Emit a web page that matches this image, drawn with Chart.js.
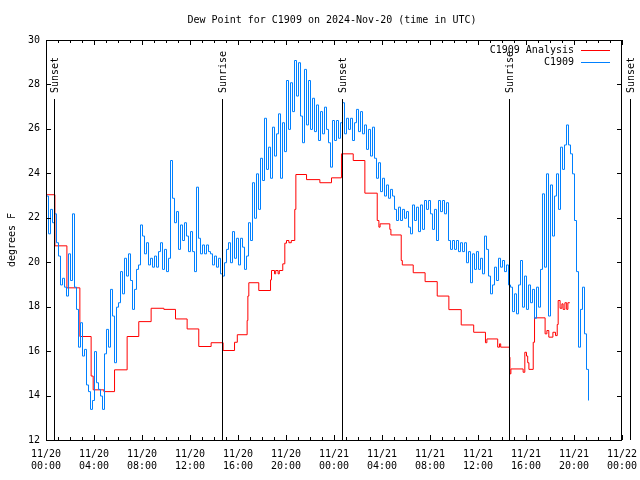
<!DOCTYPE html>
<html><head><meta charset="utf-8">
<script src="https://cdn.jsdelivr.net/npm/chart.js@4.4.0/dist/chart.umd.min.js"></script>
<style>html,body{margin:0;padding:0;background:#fff;}</style>
</head><body>
<canvas id="c" width="640" height="480"></canvas>
<script>
const FONT = '"DejaVu Sans Mono", "Liberation Mono", monospace';
const TITLE = 'Dew Point for C1909 on 2024-Nov-20 (time in UTC)';
const Y_TITLE = 'degrees F';
const SERIES_NAMES = ['C1909 Analysis', 'C1909'];

// x tick labels every 4 hours from 11/20 00:00 to 11/22 00:00
const xTickLabels = [
  ['11/20','00:00'],['11/20','04:00'],['11/20','08:00'],['11/20','12:00'],
  ['11/20','16:00'],['11/20','20:00'],['11/21','00:00'],['11/21','04:00'],
  ['11/21','08:00'],['11/21','12:00'],['11/21','16:00'],['11/21','20:00'],['11/22','00:00']
];

// Sun events (hours since 11/20 00:00 UTC)
const sunHours = [0.7, 14.64, 24.7, 38.6, 48.7];
const sunLabels = ['Sunset', 'Sunrise', 'Sunset', 'Sunrise', 'Sunset'];

// Analysis series (step changes): hours since start and values
const redHours = [0, 0.7, 1.7, 2.78, 3.72, 3.89, 4.78, 5.67, 6.72, 7.69, 8.72, 9.78, 10.75, 11.72, 12.69, 13.72, 14.72, 15.67, 15.9, 16.72, 16.78, 16.86, 17.69, 18.67, 18.75, 19.0, 19.1, 19.3, 19.4, 19.69, 19.86, 20.0, 20.2, 20.4, 20.69, 20.78, 21.67, 22.78, 23.75, 24.58, 25.56, 26.53, 27.56, 27.7, 27.8, 28.61, 28.7, 29.56, 29.65, 30.56, 31.55, 32.56, 33.53, 34.56, 35.6, 36.58, 36.7, 37.6, 37.75, 37.85, 38.58, 38.62, 38.7, 39.72, 39.86, 40.0, 40.1, 40.2, 40.56, 40.67, 41.55, 41.7, 41.86, 42.2, 42.42, 42.56, 42.64, 42.8, 42.95, 43.05, 43.2, 43.35, 43.45, 43.61];
const redValues = [23.06, 20.76, 18.87, 16.68, 14.9, 14.28, 14.2, 15.18, 16.68, 17.35, 17.95, 17.9, 17.47, 17.02, 16.23, 16.4, 16.05, 16.42, 16.76, 17.4, 18.5, 19.1, 18.75, 19.23, 19.65, 19.5, 19.65, 19.5, 19.65, 19.95, 20.88, 21.0, 20.9, 21.0, 22.4, 23.97, 23.74, 23.6, 23.82, 24.9, 24.6, 23.13, 21.9, 21.6, 21.75, 21.5, 21.25, 20.1, 19.9, 19.55, 19.15, 18.5, 17.89, 17.2, 16.87, 16.4, 16.57, 16.2, 16.35, 16.2, 15.75, 15.0, 15.22, 15.07, 15.97, 15.8, 15.5, 15.2, 16.42, 17.52, 16.8, 16.95, 16.65, 16.87, 16.72, 17.22, 18.3, 17.95, 18.15, 17.9, 18.2, 17.9, 18.2, 18.2];

// Observed series, one reading every 10 minutes from 11/20 00:00
const BLUE_STEP_HOURS = 1 / 6;
const blueValues = [
  23.0, 21.3, 22.4, 21.8, 22.2, 20.9,
  20.3, 19.0, 19.3, 18.9, 18.5, 20.4,
  19.2, 22.2, 18.9, 17.9, 16.2, 17.3,
  15.8, 16.1, 14.5, 14.2, 13.4, 13.8,
  16.0, 14.6, 14.3, 14.0, 13.4, 15.9,
  17.0, 16.2, 18.8, 17.6, 15.5, 18.0,
  18.2, 19.6, 18.6, 20.2, 19.4, 20.4,
  19.2, 17.9, 18.8, 19.7, 19.9, 21.7,
  21.2, 20.4, 20.9, 19.9, 20.2, 19.8,
  20.3, 19.8, 20.5, 20.9, 19.7, 20.6,
  19.6, 20.2, 24.6, 22.9, 21.8, 22.3,
  20.6, 21.7, 21.0, 21.8, 21.2, 20.5,
  21.4, 20.5, 19.6, 23.4, 21.1, 20.4,
  20.8, 20.4, 20.8, 20.5, 20.4, 19.9,
  20.3, 19.8, 20.2, 19.5, 19.4, 20.0,
  20.6, 20.9, 20.0, 21.4, 20.2, 21.1,
  19.9, 21.1, 20.7, 19.7, 20.3, 21.8,
  21.0, 23.6, 22.0, 24.0, 22.4, 24.7,
  23.7, 26.5, 24.2, 25.2, 23.8, 26.1,
  24.8, 25.8, 26.7, 23.8, 26.3, 25.0,
  28.2, 26.0, 28.1, 26.8, 29.1, 27.5,
  29.0, 26.6, 25.4, 28.7, 26.2, 28.2,
  26.0, 27.4, 25.9, 27.1, 25.5, 26.8,
  25.8, 27.0, 26.0, 25.4, 24.3, 26.4,
  25.5, 26.4, 25.6, 26.3, 27.2, 25.8,
  26.5, 26.0, 26.5, 25.5, 26.3, 26.9,
  25.9, 26.8, 25.8, 26.2, 25.1, 26.0,
  24.8, 26.1, 24.7, 23.8, 24.5, 23.2,
  23.8, 23.0, 23.5, 22.9, 23.3, 23.0,
  22.4, 21.9, 22.5, 21.9, 22.4, 22.0,
  22.3, 21.6, 21.3, 22.6, 21.9, 22.5,
  21.4, 22.6, 21.5, 22.8, 22.4, 22.8,
  22.2, 21.5, 22.4, 21.0, 22.8, 22.3,
  22.8, 22.2, 22.7, 21.0, 20.6, 21.0,
  20.6, 21.0, 20.5, 20.9, 20.5, 20.9,
  20.0, 20.5, 19.1, 20.4, 19.7, 20.5,
  19.7, 20.2, 19.5, 21.2, 20.6, 19.4,
  18.6, 19.0, 19.8, 19.2, 20.2, 19.8,
  20.1, 19.6, 19.9, 19.0, 18.9, 17.8,
  18.6, 17.7, 19.0, 20.1, 18.0, 19.4,
  17.9, 19.0, 18.2, 18.8, 17.5, 18.9,
  18.0, 19.7, 23.1, 19.8, 24.0, 17.6,
  23.5, 21.2, 23.0, 24.0, 22.4, 25.2,
  24.2, 25.3, 26.2, 25.3, 24.9, 24.0,
  21.9, 19.6, 16.2, 17.9, 18.9, 16.8,
  15.2, 13.8
];

const RED = '#ff0000';
const BLUE = '#0080ff';

const redPoints = redHours.map((h, i) => ({x: h, y: redValues[i]}));
const bluePoints = blueValues.map((v, i) => ({x: i * BLUE_STEP_HOURS, y: v}));

const decorPlugin = {
  id: 'decor',
  beforeDatasetsDraw(chart) {
    // shift by half a pixel so 1px step segments render crisply
    chart.ctx.save();
    chart.ctx.translate(0.5, 0.5);
  },
  afterDatasetsDraw(chart) {
    const ctx = chart.ctx;
    ctx.restore();
    const a = chart.chartArea;
    const xs = chart.scales.x, ys = chart.scales.y;
    ctx.save();
    ctx.strokeStyle = '#000';
    ctx.lineWidth = 1;
    // sun lines
    ctx.beginPath();
    sunHours.forEach(h => {
      const px = Math.round(xs.getPixelForValue(h)) + 0.5;
      ctx.moveTo(px, 99); ctx.lineTo(px, a.bottom);
    });
    ctx.stroke();
    ctx.fillStyle = '#000';
    ctx.font = '10px ' + FONT;
    sunHours.forEach((h, i) => {
      const px = Math.round(xs.getPixelForValue(h)) + 1;
      ctx.save();
      ctx.translate(px, 93);
      ctx.rotate(-Math.PI / 2);
      ctx.textAlign = 'left';
      ctx.textBaseline = 'middle';
      ctx.fillText(sunLabels[i], 0, 0);
      ctx.restore();
    });
    // border
    ctx.strokeRect(Math.round(a.left) + 0.5, Math.round(a.top) + 0.5, Math.round(a.right - a.left) - 1, Math.round(a.bottom - a.top));
    // ticks
    ctx.beginPath();
    for (let h = 0; h <= 48; h++) {
      const px = Math.round(xs.getPixelForValue(h)) + 0.5;
      const len = (h % 4 === 0) ? 5 : 3;
      ctx.moveTo(px, a.bottom); ctx.lineTo(px, a.bottom - len);
      ctx.moveTo(px, a.top); ctx.lineTo(px, a.top + len);
    }
    for (let v = 12; v <= 30; v += 2) {
      const py = Math.round(ys.getPixelForValue(v)) + 0.5;
      ctx.moveTo(a.left, py); ctx.lineTo(a.left + 5, py);
      ctx.moveTo(a.right, py); ctx.lineTo(a.right - 5, py);
    }
    ctx.stroke();
    // title
    ctx.textAlign = 'center';
    ctx.textBaseline = 'middle';
    ctx.fillText(TITLE, 332, 20);
    // legend
    const colors = [RED, BLUE];
    SERIES_NAMES.forEach((name, i) => {
      const y = 50 + i * 12;
      ctx.fillStyle = '#000';
      ctx.textAlign = 'right';
      ctx.fillText(name, 574, y);
      ctx.strokeStyle = colors[i];
      ctx.beginPath();
      ctx.moveTo(581, y + 0.5); ctx.lineTo(610, y + 0.5);
      ctx.stroke();
    });
    ctx.restore();
  }
};

new Chart(document.getElementById('c'), {
  type: 'line',
  data: {
    datasets: [
      {label: SERIES_NAMES[0], data: redPoints, borderColor: RED, borderWidth: 1, pointRadius: 0, stepped: true, fill: false, order: 1},
      {label: SERIES_NAMES[1], data: bluePoints, borderColor: BLUE, borderWidth: 1, pointRadius: 0, stepped: true, fill: false, order: 0}
    ]
  },
  options: {
    responsive: false,
    animation: false,
    devicePixelRatio: 1,
    layout: {padding: {top: 40, right: 18, left: 0, bottom: 0}},
    plugins: {legend: {display: false}, tooltip: {enabled: false}, title: {display: false}},
    scales: {
      x: {
        type: 'linear', min: 0, max: 48,
        grid: {display: false, drawTicks: false},
        border: {display: false},
        ticks: {stepSize: 4, autoSkip: false, maxRotation: 0, padding: 8, color: '#000',
          font: {family: FONT, size: 10},
          callback: (v, i) => xTickLabels[i]},
        afterFit: s => { s.height = 40; s.paddingLeft = 0; s.paddingRight = 0; }
      },
      y: {
        type: 'linear', min: 12, max: 30,
        grid: {display: false, drawTicks: false},
        border: {display: false},
        ticks: {stepSize: 2, padding: 6, color: '#000', font: {family: FONT, size: 10},
          callback: v => String(v)},
        title: {display: true, text: Y_TITLE, color: '#000', font: {family: FONT, size: 10}, padding: {top: 6, bottom: 0}},
        afterFit: s => { s.width = 46; s.paddingTop = 0; s.paddingBottom = 0; }
      }
    }
  },
  plugins: [decorPlugin]
});
</script>
</body></html>
